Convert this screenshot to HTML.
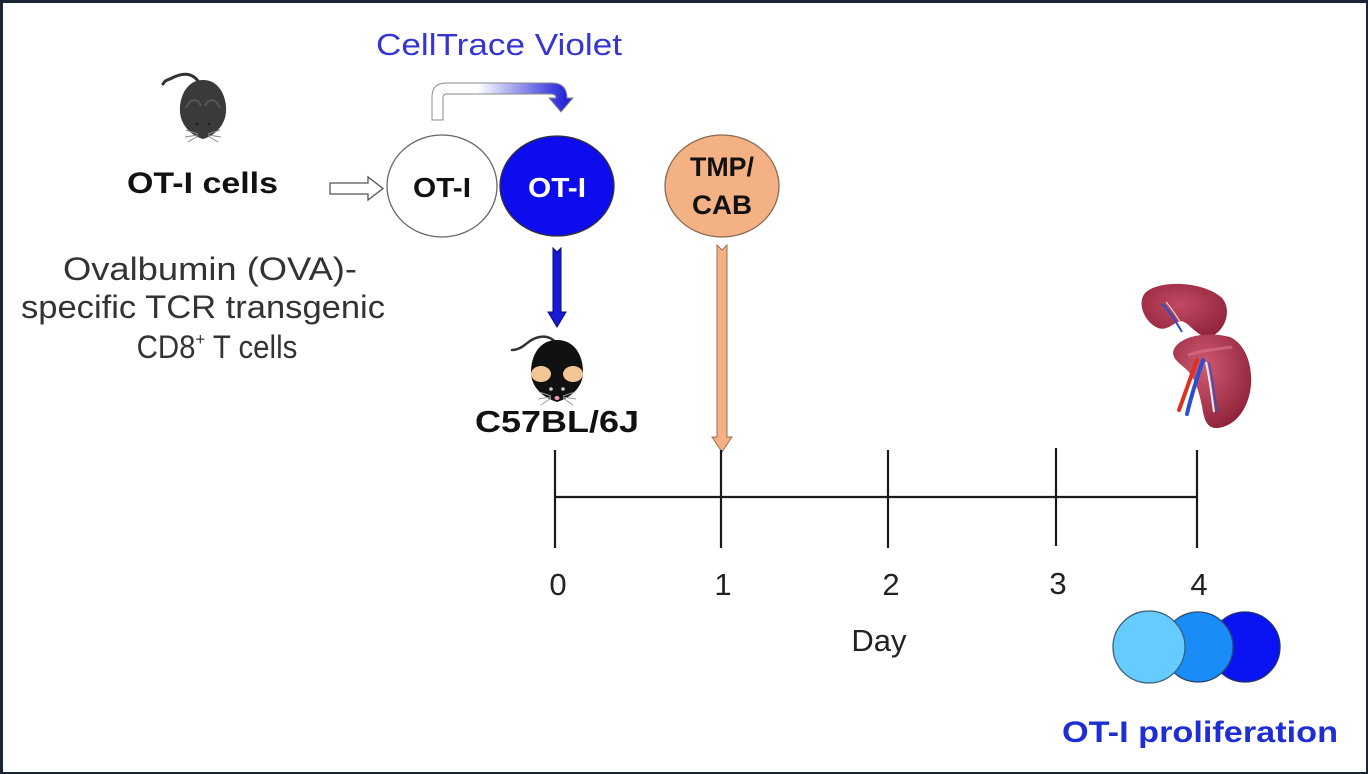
<!DOCTYPE html>
<html>
<head>
<meta charset="utf-8">
<style>
  html,body{margin:0;padding:0;}
  body{width:1368px;height:774px;background:#1c2535;position:relative;overflow:hidden;}
  #c{position:absolute;left:3px;top:3px;width:1363px;height:769px;background:#fff;}
  svg{position:absolute;left:0;top:0;}
  text{font-family:"Liberation Sans",Arial,sans-serif;}
</style>
</head>
<body>
<div id="c"></div>
<svg width="1368" height="774" viewBox="0 0 1368 774" xmlns="http://www.w3.org/2000/svg">
  <defs>
    <linearGradient id="bendg" x1="440" y1="0" x2="565" y2="0" gradientUnits="userSpaceOnUse">
      <stop offset="0" stop-color="#ffffff"/>
      <stop offset="0.3" stop-color="#ffffff"/>
      <stop offset="1" stop-color="#2626d8"/>
    </linearGradient>
    <radialGradient id="spl1" cx="0.45" cy="0.4" r="0.7">
      <stop offset="0" stop-color="#c24a63"/>
      <stop offset="1" stop-color="#8e2038"/>
    </radialGradient>
    <radialGradient id="spl2" cx="0.4" cy="0.35" r="0.75">
      <stop offset="0" stop-color="#cf5a72"/>
      <stop offset="1" stop-color="#8a1e36"/>
    </radialGradient>
  </defs>

  <!-- CellTrace Violet -->
  <text x="376" y="55" font-size="31" fill="#3535d2" textLength="246" lengthAdjust="spacingAndGlyphs">CellTrace Violet</text>

  <!-- Mouse 1 (dark gray) -->
  <g>
    <path d="M200,84 C192,70 180,74 172,78 C168,80 165,80 163,84" fill="none" stroke="#333" stroke-width="3" stroke-linecap="round"/>
    <path d="M203,80 C220,80 227,98 226,112 C225,126 214,136 203,139 C192,136 181,126 180,112 C179,98 186,80 203,80 Z" fill="#3a3a3a"/>
    <path d="M186,108 C190,98 198,98 201,106" fill="none" stroke="#555" stroke-width="2"/>
    <path d="M205,106 C208,98 216,98 220,108" fill="none" stroke="#555" stroke-width="2"/>
    <circle cx="197" cy="124" r="1.5" fill="#222"/>
    <circle cx="209" cy="124" r="1.5" fill="#222"/>
    <g stroke="#888" stroke-width="1">
      <line x1="198" y1="134" x2="186" y2="130"/><line x1="198" y1="135" x2="185" y2="137"/><line x1="198" y1="136" x2="188" y2="142"/>
      <line x1="208" y1="134" x2="220" y2="130"/><line x1="208" y1="135" x2="221" y2="137"/><line x1="208" y1="136" x2="218" y2="142"/>
    </g>
  </g>

  <!-- OT-I cells -->
  <text x="127" y="193" font-size="30" font-weight="bold" fill="#111" textLength="151" lengthAdjust="spacingAndGlyphs">OT-I cells</text>

  <!-- description -->
  <g font-size="32" fill="#333" text-anchor="middle">
    <text x="210" y="280" textLength="294" lengthAdjust="spacingAndGlyphs">Ovalbumin (OVA)-</text>
    <text x="203" y="318" textLength="364" lengthAdjust="spacingAndGlyphs">specific TCR transgenic</text>
    <text transform="translate(217,358) scale(0.92,1)" x="0" y="0">CD8<tspan font-size="18" dy="-13">+</tspan><tspan dy="13"> T cells</tspan></text>
  </g>

  <!-- hollow arrow -->
  <path d="M330,183 L368,183 L368,177 L383,188.5 L368,200 L368,194 L330,194 Z" fill="#fff" stroke="#555" stroke-width="1.3"/>

  <!-- bent gradient arrow -->
  <path d="M432,120 L432,97 Q432,83 446,83 L552,83 Q567,83 567,98 L573,98 L561,112 L549,98 L556,98 Q556,94 551,94 L447,94 Q443,94 443,98 L443,120 Z" fill="url(#bendg)" stroke="#8a8a8a" stroke-width="1"/>

  <!-- circles -->
  <ellipse cx="442" cy="186" rx="55" ry="51" fill="#fff" stroke="#666" stroke-width="1.3"/>
  <ellipse cx="557" cy="186" rx="57" ry="50" fill="#0c0cec" stroke="#333" stroke-width="1.3"/>
  <text x="442" y="197" font-size="28" font-weight="bold" fill="#111" text-anchor="middle" textLength="58" lengthAdjust="spacingAndGlyphs">OT-I</text>
  <text x="557" y="197" font-size="28" font-weight="bold" fill="#fff" text-anchor="middle" textLength="58" lengthAdjust="spacingAndGlyphs">OT-I</text>

  <!-- blue down arrow -->
  <path d="M553,248 L557,252 L561,248 L561,312 L566,312 L557,327 L548,312 L553,312 Z" fill="#1a1ad6" stroke="#0a0a70" stroke-width="1"/>

  <!-- Mouse 2 (black with tan ears) -->
  <g>
    <path d="M556,343 C548,333 535,336 526,344 C520,349 516,350 512,350" fill="none" stroke="#333" stroke-width="2.5" stroke-linecap="round"/>
    <path d="M557,340 C575,340 583,356 583,372 C583,388 570,398 557,402 C544,398 531,388 531,372 C531,356 539,340 557,340 Z" fill="#111"/>
    <ellipse cx="541" cy="374" rx="10" ry="8" fill="#f2c595"/>
    <ellipse cx="573" cy="374" rx="10" ry="8" fill="#f2c595"/>
    <circle cx="551" cy="389" r="1.8" fill="#ccc"/>
    <circle cx="563" cy="389" r="1.8" fill="#ccc"/>
    <ellipse cx="557" cy="398" rx="2.5" ry="2" fill="#f0a0b0"/>
    <g stroke="#999" stroke-width="1">
      <line x1="551" y1="396" x2="539" y2="392"/><line x1="551" y1="397" x2="538" y2="399"/><line x1="551" y1="398" x2="541" y2="405"/>
      <line x1="563" y1="396" x2="575" y2="392"/><line x1="563" y1="397" x2="576" y2="399"/><line x1="563" y1="398" x2="573" y2="405"/>
    </g>
  </g>

  <!-- C57BL/6J -->
  <text x="557" y="432" font-size="31" font-weight="bold" fill="#111" text-anchor="middle" textLength="164" lengthAdjust="spacingAndGlyphs">C57BL/6J</text>

  <!-- TMP/CAB -->
  <ellipse cx="722" cy="186" rx="57" ry="51" fill="#f4b183" stroke="#8a6a52" stroke-width="1.3"/>
  <text x="722" y="176" font-size="27" font-weight="bold" fill="#111" text-anchor="middle" textLength="64" lengthAdjust="spacingAndGlyphs">TMP/</text>
  <text x="722" y="214" font-size="27" font-weight="bold" fill="#111" text-anchor="middle" textLength="60" lengthAdjust="spacingAndGlyphs">CAB</text>

  <!-- peach arrow -->
  <path d="M717,245 L722,250 L727,245 L727,437 L732,437 L722,452 L712,437 L717,437 Z" fill="#f4b183" stroke="#9a7050" stroke-width="1"/>

  <!-- timeline -->
  <g stroke="#1a1a1a" stroke-width="2.2">
    <line x1="555" y1="497" x2="1197" y2="497"/>
    <line x1="555" y1="450" x2="555" y2="548"/>
    <line x1="721" y1="450" x2="721" y2="548"/>
    <line x1="888" y1="450" x2="888" y2="548"/>
    <line x1="1056" y1="448" x2="1056" y2="546"/>
    <line x1="1197" y1="450" x2="1197" y2="548"/>
  </g>
  <g font-size="31" fill="#222" text-anchor="middle">
    <text x="558" y="595">0</text>
    <text x="723" y="595">1</text>
    <text x="891" y="595">2</text>
    <text x="1058" y="594">3</text>
    <text x="1199" y="595">4</text>
    <text x="879" y="651">Day</text>
  </g>

  <!-- spleen -->
  <g>
    <path d="M1146,292 C1162,279 1205,282 1222,298 C1232,309 1226,330 1212,336 C1200,340 1192,326 1184,322 C1176,318 1170,332 1158,328 C1144,322 1136,302 1146,292 Z" fill="url(#spl1)"/>
    <path d="M1162,304 C1170,312 1175,320 1182,332" fill="none" stroke="#3050c8" stroke-width="2"/>
    <path d="M1166,302 C1173,310 1178,318 1185,330" fill="none" stroke="#fff" stroke-width="1.2" opacity="0.8"/>
    <path d="M1176,346 C1186,334 1212,332 1230,337 C1248,345 1254,372 1250,392 C1246,412 1234,426 1218,428 C1207,429 1204,420 1202,406 C1199,392 1195,378 1187,370 C1178,362 1168,356 1176,346 Z" fill="url(#spl2)"/>
    <path d="M1188,355 C1200,351 1216,349 1232,347" fill="none" stroke="#d87088" stroke-width="3" opacity="0.7"/>
    <path d="M1197,360 C1191,376 1185,394 1179,410" fill="none" stroke="#e03020" stroke-width="4" stroke-linecap="round"/>
    <path d="M1203,360 C1197,378 1191,396 1187,414" fill="none" stroke="#2a50d0" stroke-width="4" stroke-linecap="round"/>
    <path d="M1206,362 C1210,380 1212,398 1214,412" fill="none" stroke="#f4f0f0" stroke-width="2"/>
    <path d="M1209,362 C1213,380 1215,398 1217,412" fill="none" stroke="#3050c8" stroke-width="1.5"/>
  </g>

  <!-- proliferation circles -->
  <circle cx="1245" cy="647" r="35" fill="#0a14f2" stroke="#223366" stroke-width="1.3"/>
  <circle cx="1198" cy="647" r="35" fill="#1a8cf8" stroke="#2a4a70" stroke-width="1.3"/>
  <circle cx="1149" cy="647" r="36" fill="#66ccff" stroke="#3a6078" stroke-width="1.3"/>

  <text x="1062" y="742" font-size="30" font-weight="bold" fill="#1e2ed6" textLength="276" lengthAdjust="spacingAndGlyphs">OT-I proliferation</text>
</svg>
</body>
</html>
